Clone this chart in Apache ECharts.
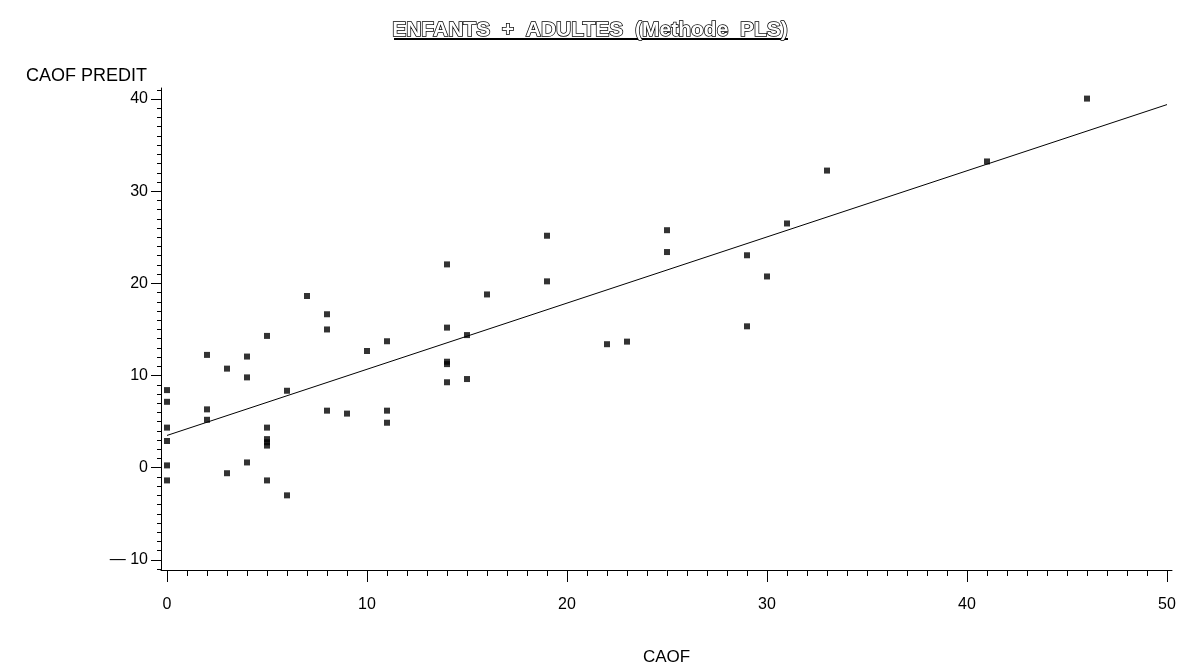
<!DOCTYPE html>
<html>
<head>
<meta charset="utf-8">
<script src="https://cdn.jsdelivr.net/npm/echarts@6/dist/echarts.min.js"></script>
<style>
html,body{margin:0;padding:0;background:#fff;}
#chart{width:1180px;height:671px;}
</style>
</head>
<body>
<div id="chart"></div>
<script>
// Observed CAOF values (x) and predicted CAOF (y)
const caof = [0,0,0,0,0,0, 2,2,2, 3,3, 4,4,4, 5,5,5,5,5,5, 6,6, 7, 8,8,8, 9, 10, 11,11,11,
  14,14,14,14,14, 15,15, 16, 19,19, 22, 23, 25,25, 29,29, 30, 31, 33, 41, 46];
const caofPredit = [8.42,7.15,4.35,2.9,0.25,-1.38, 12.24,6.33,5.2, 10.75,-0.6, 12.06,9.8,0.57,
  14.3,4.35,3.1,2.76,2.4,-1.38, 8.35,-3.0, 18.63, 16.65,15.0,6.19, 5.87, 12.66, 13.72,6.19,4.88,
  22.06,15.2,11.5,11.24,9.27, 14.39,9.62, 18.8, 25.17,20.22, 13.4, 13.68, 25.77,23.4,
  23.05,15.34, 20.75, 26.5, 32.24, 33.23, 40.05];
// Fitted PLS line end points
const fitX = [0, 50];
const fitY = [3.5, 39.4];
// Tick labels
const xTicks = [0,10,20,30,40,50];
const yTicks = [-10,0,10,20,30,40];
const xMinor = []; for (let i = 0; i <= 50; i++) xMinor.push(i);
const yMinor = []; for (let i = -11; i <= 41; i++) yMinor.push(i);

const points = caof.map((x, i) => [x, caofPredit[i]]);
const fitLine = fitX.map((x, i) => [x, fitY[i]]);

const X_MIN = -0.3, X_MAX = 50.25, Y_MIN = -11.1, Y_MAX = 41.2;
const FONT = 'Liberation Sans, Arial, sans-serif';

const chart = echarts.init(document.getElementById('chart'), null, {renderer: 'canvas'});
chart.setOption({
  animation: false,
  backgroundColor: '#fff',
  title: {
    text: 'ENFANTS  +  ADULTES  (Methode  PLS)',
    left: 'center',
    top: 15,
    textStyle: {
      fontFamily: FONT, fontWeight: 'bold', fontSize: 21,
      color: '#ffffff', textBorderColor: '#000', textBorderWidth: 1.5
    }
  },
  graphic: [{
    type: 'line', shape: {x1: 394, y1: 39, x2: 788, y2: 39},
    style: {stroke: '#000', lineWidth: 2}
  }],
  grid: {left: 161, right: 8, top: 88, bottom: 90},
  xAxis: [{
    type: 'value', min: X_MIN, max: X_MAX,
    name: 'CAOF', nameLocation: 'middle', nameGap: 79,
    nameTextStyle: {fontFamily: FONT, fontSize: 17, color: '#000'},
    axisLine: {show: true, onZero: false, lineStyle: {color: '#000', width: 1}},
    axisTick: {show: true, customValues: xTicks, length: 12, lineStyle: {color: '#000'}},
    axisLabel: {customValues: xTicks, margin: 27, fontFamily: FONT, fontSize: 16, color: '#000'},
    splitLine: {show: false}
  }, {
    type: 'value', min: X_MIN, max: X_MAX, position: 'bottom',
    axisLine: {show: false, onZero: false},
    axisTick: {show: true, customValues: xMinor, length: 6, lineStyle: {color: '#000'}},
    axisLabel: {show: false},
    splitLine: {show: false}
  }],
  yAxis: [{
    type: 'value', min: Y_MIN, max: Y_MAX,
    name: 'CAOF PREDIT', nameLocation: 'end', nameGap: 3,
    nameTextStyle: {fontFamily: FONT, fontSize: 18, color: '#000', align: 'right', padding: [0, 14, 0, 0]},
    axisLine: {show: true, onZero: false, lineStyle: {color: '#000', width: 1}},
    axisTick: {show: true, customValues: yTicks, length: 10, lineStyle: {color: '#000'}},
    axisLabel: {customValues: yTicks, margin: 13, fontFamily: FONT, fontSize: 16, color: '#000',
      formatter: v => v < 0 ? '\u2014 ' + Math.abs(v) : String(v)},
    splitLine: {show: false}
  }, {
    type: 'value', min: Y_MIN, max: Y_MAX, position: 'left',
    axisLine: {show: false, onZero: false},
    axisTick: {show: true, customValues: yMinor, length: 4, lineStyle: {color: '#000'}},
    axisLabel: {show: false},
    splitLine: {show: false}
  }],
  series: [{
    type: 'line', data: fitLine, xAxisIndex: 0, yAxisIndex: 0,
    showSymbol: false, symbol: 'none',
    lineStyle: {color: '#000', width: 1}, z: 2
  }, {
    type: 'scatter', data: points, xAxisIndex: 0, yAxisIndex: 0,
    symbol: 'rect', symbolSize: 6,
    itemStyle: {color: '#000'}, z: 3
  }]
});
</script>
</body>
</html>
